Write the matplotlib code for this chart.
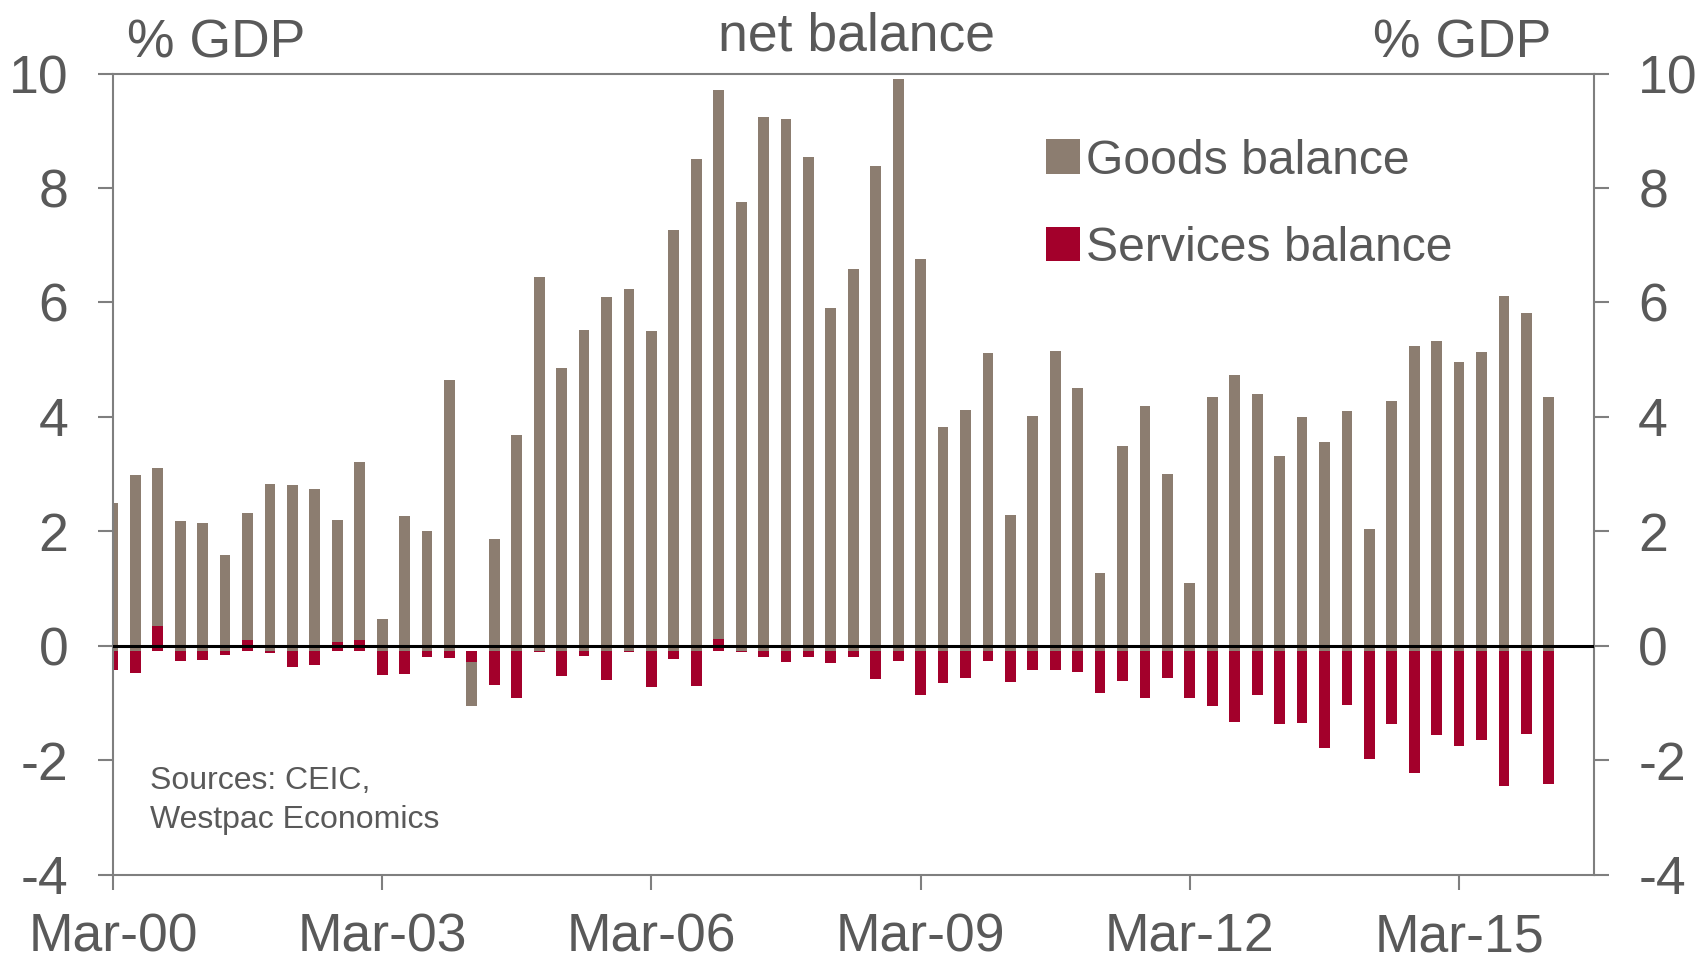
import matplotlib.pyplot as plt
import numpy as np

# quarterly data, Mar-00 .. Mar-16 (% of GDP)
goods = [2.59, 3.08, 2.76, 2.28, 2.25, 1.69, 2.23, 2.92, 2.91, 2.84, 2.12, 3.12, 0.57,
         2.36, 2.10, 4.75, -0.77, 1.96, 3.78, 6.54, 4.95, 5.62, 6.19, 6.34, 5.60, 7.36,
         8.61, 9.59, 7.85, 9.34, 9.31, 8.64, 6.01, 6.68, 8.49, 10.00, 6.86, 3.92, 4.22,
         5.21, 2.39, 4.11, 5.25, 4.61, 1.37, 3.59, 4.29, 3.10, 1.19, 4.45, 4.83, 4.49,
         3.41, 4.10, 3.66, 4.20, 2.13, 4.37, 5.33, 5.43, 5.06, 5.23, 6.21, 5.91, 4.44]
services = [-0.33, -0.37, 0.45, -0.16, -0.15, -0.06, 0.19, -0.03, -0.28, -0.24, 0.17, 0.19,
            -0.41, -0.39, -0.10, -0.12, -0.18, -0.58, -0.81, -0.01, -0.43, -0.08, -0.50,
            -0.01, -0.62, -0.13, -0.61, 0.22, -0.01, -0.09, -0.19, -0.10, -0.20, -0.09,
            -0.48, -0.17, -0.77, -0.56, -0.47, -0.16, -0.53, -0.33, -0.33, -0.36, -0.72,
            -0.51, -0.81, -0.46, -0.81, -0.96, -1.23, -0.77, -1.27, -1.25, -1.69, -0.94,
            -1.89, -1.27, -2.13, -1.46, -1.65, -1.55, -2.36, -1.45, -2.32]
tick_labels = ['Mar-00', 'Mar-03', 'Mar-06', 'Mar-09', 'Mar-12', 'Mar-15']

GOODS_COL = '#8C7D70'
SERV_COL = '#A3002B'
TXT = '#595959'
SPINE = '#7F7F7F'
BAR_BASE = -0.1  # bars in the original sit slightly below the zero line
FS = 38.5

plt.rcParams['font.family'] = ['Liberation Sans', 'DejaVu Sans']

fig = plt.figure(figsize=(17, 9.6), dpi=100)
ax = fig.add_axes([112.9 / 1700, 1 - 874.5 / 960, (1593.7 - 112.9) / 1700, (874.5 - 73.5) / 960])

g = np.array(goods)
s = np.array(services)
x = np.arange(len(g))
same_sign = np.sign(g) == np.sign(s)
g_bottom = BAR_BASE + np.where(same_sign, s, 0)

ax.bar(x, s, bottom=BAR_BASE, width=0.48, color=SERV_COL, label='Services balance', zorder=2)
ax.bar(x, g, bottom=g_bottom, width=0.48, color=GOODS_COL, label='Goods balance', zorder=2)
ax.axhline(0, color='black', lw=2.2, zorder=3)

ax.set_xlim(0, 66)
ax.set_ylim(-4, 10)
ax.set_yticks(range(-4, 11, 2))
ax.set_yticklabels([str(v) for v in range(-4, 11, 2)])
ax.set_xticks(range(0, 61, 12))
ax.set_xticklabels(tick_labels)

for sp in ax.spines.values():
    sp.set_color(SPINE)
    sp.set_linewidth(1.5)

ax.tick_params(axis='y', which='both', left=True, right=True, labelleft=True, labelright=True,
               length=11, width=1.5, color=SPINE, labelsize=FS, labelcolor=TXT, pad=21)
ax.tick_params(axis='x', length=11, width=1.5, color=SPINE, labelsize=FS, labelcolor=TXT, pad=16.5)

handles, labels = ax.get_legend_handles_labels()
leg = ax.legend(handles[::-1], labels[::-1], loc='upper left',
                bbox_to_anchor=(1045.6 / 1700, 1 - 138.5 / 960), bbox_transform=fig.transFigure,
                frameon=False, fontsize=34.7, handlelength=0.705, handleheight=0.73,
                handletextpad=0.14, labelspacing=0.875, borderpad=0, borderaxespad=0)
for t in leg.get_texts():
    t.set_color(TXT)

fig.text(127 / 1700, 1 - 57.3 / 960, '% GDP', fontsize=FS, color=TXT, va='baseline', ha='left')
fig.text(1551.6 / 1700, 1 - 57.3 / 960, '% GDP', fontsize=FS, color=TXT, va='baseline', ha='right')
fig.text(857 / 1700, 1 - 50.7 / 960, 'net balance', fontsize=FS, color=TXT, va='baseline', ha='center')

fig.text(150 / 1700, 1 - 789 / 960, 'Sources: CEIC,', fontsize=23, color=TXT, va='baseline')
fig.text(150 / 1700, 1 - 828 / 960, 'Westpac Economics', fontsize=23, color=TXT, va='baseline')

fig.savefig('out.png', dpi=100)
